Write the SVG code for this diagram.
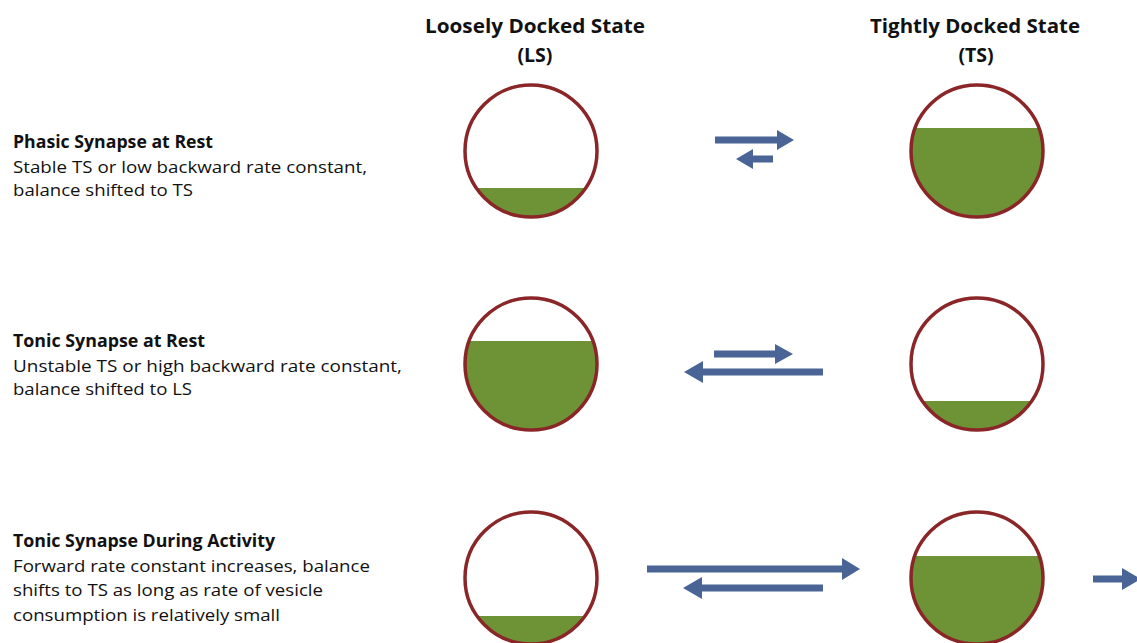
<svg xmlns="http://www.w3.org/2000/svg" width="1137" height="643" viewBox="0 0 1137 643">
<style>
text{font-family:"Open Sans","Liberation Sans",Arial,sans-serif;fill:#111}
.h{font-size:19.5px;font-weight:bold;text-anchor:middle}
.t{font-size:17px;font-weight:bold}
.b{font-size:17px}
.ring{fill:none;stroke:#8a2628;stroke-width:3.5}
.fill{fill:#6d9336}
.arr{fill:#4b6496}
</style>
<defs>
<clipPath id="c1"><circle cx="531" cy="151" r="66"/></clipPath>
<clipPath id="c2"><circle cx="977" cy="151" r="66"/></clipPath>
<clipPath id="c3"><circle cx="531" cy="364" r="66"/></clipPath>
<clipPath id="c4"><circle cx="977" cy="364" r="66"/></clipPath>
<clipPath id="c5"><circle cx="531" cy="578" r="66"/></clipPath>
<clipPath id="c6"><circle cx="977" cy="578" r="66"/></clipPath>
</defs>
<rect width="1137" height="643" fill="#fff"/>
<g id="headers">
<text class="h" x="535" y="33" textLength="220" lengthAdjust="spacingAndGlyphs">Loosely Docked State</text>
<text class="h" x="535" y="62">(LS)</text>
<text class="h" x="975" y="33" textLength="210" lengthAdjust="spacingAndGlyphs">Tightly Docked State</text>
<text class="h" x="976" y="62">(TS)</text>
</g>
<g id="label-phasic">
<text class="t" x="13" y="148" textLength="200" lengthAdjust="spacingAndGlyphs">Phasic Synapse at Rest</text>
<text class="b" x="13" y="173" textLength="354" lengthAdjust="spacingAndGlyphs">Stable TS or low backward rate constant,</text>
<text class="b" x="13" y="196" textLength="180" lengthAdjust="spacingAndGlyphs">balance shifted to TS</text>
</g>
<g id="label-tonic-rest">
<text class="t" x="13" y="347" textLength="192" lengthAdjust="spacingAndGlyphs">Tonic Synapse at Rest</text>
<text class="b" x="13" y="372" textLength="389" lengthAdjust="spacingAndGlyphs">Unstable TS or high backward rate constant,</text>
<text class="b" x="13" y="395" textLength="179" lengthAdjust="spacingAndGlyphs">balance shifted to LS</text>
</g>
<g id="label-tonic-activity">
<text class="t" x="13" y="547" textLength="262" lengthAdjust="spacingAndGlyphs">Tonic Synapse During Activity</text>
<text class="b" x="13" y="572" textLength="357" lengthAdjust="spacingAndGlyphs">Forward rate constant increases, balance</text>
<text class="b" x="13" y="596" textLength="310" lengthAdjust="spacingAndGlyphs">shifts to TS as long as rate of vesicle</text>
<text class="b" x="13" y="621" textLength="267" lengthAdjust="spacingAndGlyphs">consumption is relatively small</text>
</g>
<g id="ls-phasic">
<rect class="fill" x="460" y="188" width="142" height="40" clip-path="url(#c1)"/>
<circle class="ring" cx="531" cy="151" r="66"/>
</g>
<g id="ts-phasic">
<rect class="fill" x="906" y="128" width="142" height="100" clip-path="url(#c2)"/>
<circle class="ring" cx="977" cy="151" r="66"/>
</g>
<g id="ls-tonic-rest">
<rect class="fill" x="460" y="341" width="142" height="100" clip-path="url(#c3)"/>
<circle class="ring" cx="531" cy="364" r="66"/>
</g>
<g id="ts-tonic-rest">
<rect class="fill" x="906" y="401" width="142" height="40" clip-path="url(#c4)"/>
<circle class="ring" cx="977" cy="364" r="66"/>
</g>
<g id="ls-tonic-activity">
<rect class="fill" x="460" y="616" width="142" height="40" clip-path="url(#c5)"/>
<circle class="ring" cx="531" cy="578" r="66"/>
</g>
<g id="ts-tonic-activity">
<rect class="fill" x="906" y="556" width="142" height="100" clip-path="url(#c6)"/>
<circle class="ring" cx="977" cy="578" r="66"/>
</g>
<g id="connectors">
<polygon class="arr" points="715,136.5 777,136.5 777,130 794,140 777,150 777,143.5 715,143.5"/>
<polygon class="arr" points="773,155.5 753,155.5 753,149 736,159 753,169 753,162.5 773,162.5"/>
<polygon class="arr" points="714,350.5 775,350.5 775,344 793,354 775,364 775,357.5 714,357.5"/>
<polygon class="arr" points="823,368.5 703,368.5 703,361 684,372 703,383 703,375.5 823,375.5"/>
<polygon class="arr" points="647,565.5 842,565.5 842,558 860,569 842,580 842,572.5 647,572.5"/>
<polygon class="arr" points="823,584.5 702,584.5 702,577 683,588 702,599 702,591.5 823,591.5"/>
<polygon class="arr" points="1093,575.5 1122,575.5 1122,568 1141,579 1122,590 1122,582.5 1093,582.5"/>
</g>
</svg>
